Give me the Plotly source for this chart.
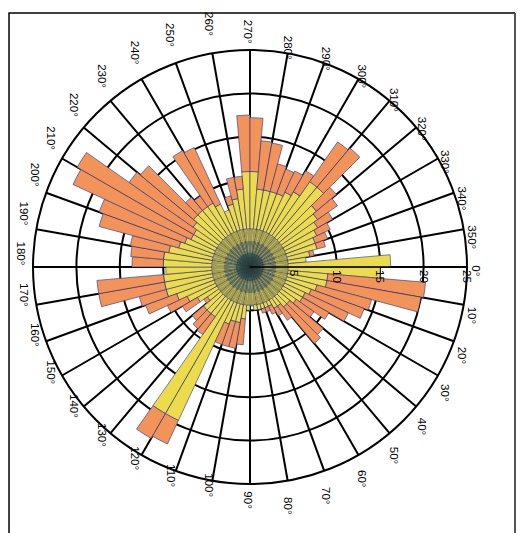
import numpy as np
import plotly.graph_objects as go

# 5-degree bins, starting at 0-5 deg, angles clockwise from the right
bin_start = list(range(0, 360, 5))
bin_width = 5

# total bar length per bin
totals = [
    15, 20.3, 20, 14.5, 14, 12.5, 10.5, 9, 11, 11.5, 7.5, 6.5, 6, 5.5, 5.5, 5, 5, 4.5,
    5, 9, 9.5, 9.5, 9.5, 22.5, 22.8, 9.5, 9.3, 8.7, 6.5, 9, 10.5, 12.8, 13.2, 17.7, 17.7, 9.7,
    13.6, 13.8, 14, 18, 18.5, 22.5, 23, 17, 16.5, 10.5, 10, 15.5, 15.2, 7, 8.5, 10.5, 10.5, 17.5,
    17.2, 14.6, 14.5, 12.3, 12, 12.2, 12.8, 17.6, 17.9, 13, 12.3, 11, 10.2, 9.5, 9, 7.5, 6.5, 16.2,
]

# radius where the yellow part of each bar ends (orange beyond)
yellow_end = [
    15, 9, 9, 8, 7.5, 7, 7, 6.5, 6, 6, 5.5, 5.5, 5, 5, 5, 5, 5, 5,
    5, 6, 6.5, 6.5, 7, 19.5, 19.5, 7, 7, 7, 6, 7, 8, 9, 10, 10, 10, 9.7,
    10, 10, 9.5, 8.5, 8, 7.5, 7.5, 8, 8.5, 8.5, 8.5, 8.5, 8, 7, 7.5, 8, 9, 11,
    11, 9, 9, 9, 9, 9.5, 10, 12, 12, 10, 9.5, 9, 8.5, 8, 8, 7, 6.5, 16.2,
]

radial_ticks = [5, 10, 15, 20, 25]
angle_ticks = list(range(0, 360, 10))

t = np.array(totals, dtype=float)
y = np.minimum(np.array(yellow_end, dtype=float), t)
theta = np.array(bin_start) + bin_width / 2

# inner radial colour bands (centre blob)
band_edges = [0, 1.6, 3.0, 4.4]
band_colors = ["#3c5857", "#6b7656", "#a29c50"]

fig = go.Figure()
for i in range(len(band_colors)):
    lo, hi = band_edges[i], band_edges[i + 1]
    seg = np.clip(t, lo, hi) - lo
    fig.add_trace(go.Barpolar(
        r=seg, theta=theta, width=[bin_width] * len(theta),
        marker=dict(color=band_colors[i], line=dict(width=0)),
        hoverinfo="skip", showlegend=False,
    ))

inner_top = band_edges[-1]
yellow_seg = np.clip(np.maximum(y, inner_top), inner_top, None) - inner_top
yellow_seg = np.minimum(yellow_seg, np.clip(t - inner_top, 0, None))
orange_seg = np.clip(t - np.maximum(y, inner_top), 0, None)

fig.add_trace(go.Barpolar(
    r=yellow_seg, theta=theta, width=[bin_width] * len(theta),
    marker=dict(color="#ecdb4a", line=dict(color="#27308a", width=0.6)),
    hoverinfo="skip", showlegend=False,
))
fig.add_trace(go.Barpolar(
    r=orange_seg, theta=theta, width=[bin_width] * len(theta),
    marker=dict(color="#f2935a", line=dict(color="#27308a", width=0.6)),
    hoverinfo="skip", showlegend=False,
))

# page body has an 8px margin: size the figure to fit and offset positions
OFF = 8
W, H = 526 - OFF, 533 - OFF
cx, cy, R = 250 - OFF, 267 - OFF, 217

top_y = 1 - (13 - OFF) / H
right_x = (515 - OFF) / W

fig.update_layout(
    width=W, height=H,
    margin=dict(l=0, r=0, t=0, b=0),
    paper_bgcolor="white",
    font=dict(family="Liberation Sans, Arial, sans-serif", color="black"),
    polar=dict(
        domain=dict(x=[(cx - R) / W, (cx + R) / W], y=[1 - (cy + R) / H, 1 - (cy - R) / H]),
        bgcolor="white",
        bargap=0,
        barmode="stack",
        angularaxis=dict(
            rotation=0, direction="clockwise",
            tickmode="array", tickvals=angle_ticks,
            ticktext=[f"{a}°" for a in angle_ticks],
            tickangle=90,
            tickfont=dict(size=11.5, color="black"),
            showgrid=True, gridcolor="black", gridwidth=1.5,
            showline=True, linecolor="black", linewidth=2,
            ticks="outside", ticklen=7, tickcolor="rgba(0,0,0,0)",
            layer="below traces",
        ),
        radialaxis=dict(
            range=[0, 25], angle=0, tickangle=90,
            tickmode="array", tickvals=radial_ticks,
            ticktext=[str(v) for v in radial_ticks],
            tickfont=dict(size=11.5, color="black"),
            showgrid=True, gridcolor="black", gridwidth=1.5,
            showline=True, linecolor="black", linewidth=1.5,
            ticks="", layer="above traces",
        ),
    ),
    shapes=[
        dict(type="line", xref="paper", yref="paper", x0=0.001, x1=right_x, y0=top_y, y1=top_y,
             line=dict(color="black", width=1.5)),
        dict(type="line", xref="paper", yref="paper", x0=0.002, x1=0.002, y0=0, y1=top_y,
             line=dict(color="black", width=1.5)),
        dict(type="line", xref="paper", yref="paper", x0=right_x, x1=right_x, y0=0, y1=top_y,
             line=dict(color="#555555", width=2)),
    ],
)

fig.write_html("out.html")
